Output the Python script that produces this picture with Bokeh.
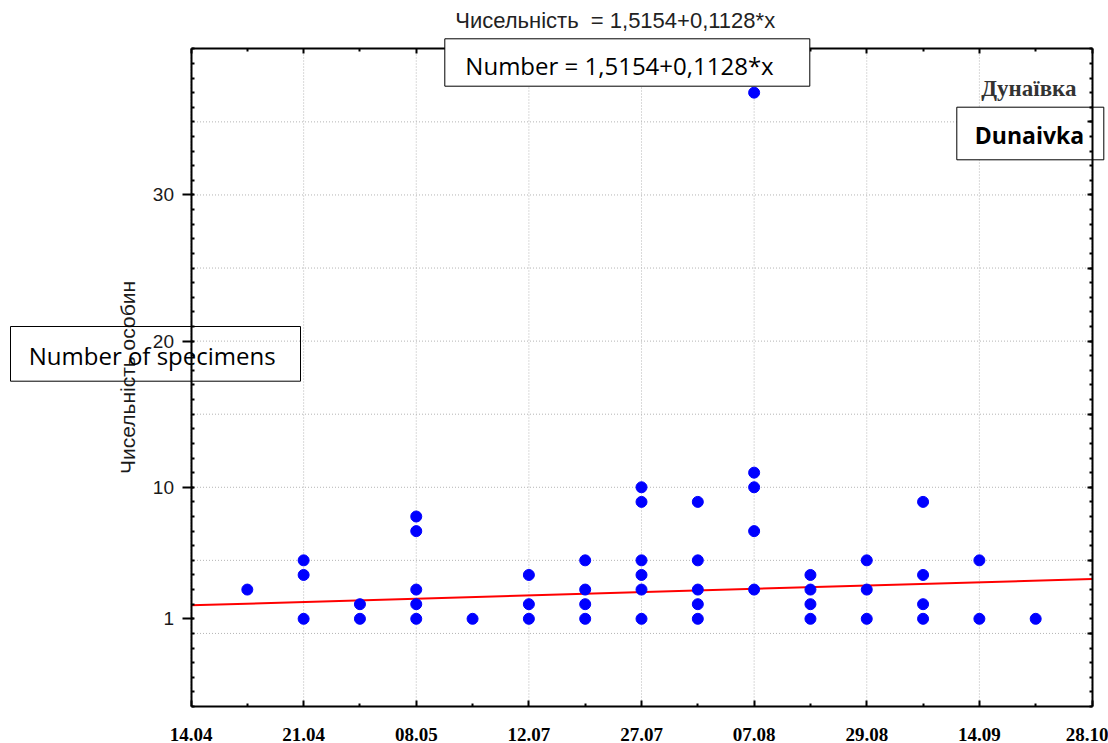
from bokeh.plotting import figure
from bokeh.models import Range1d, FixedTicker, LinearAxis, Label, BoxAnnotation, ColumnDataSource
from bokeh.embed import file_html
from bokeh.resources import INLINE

# Sampling dates shown on the horizontal axis and their slot positions
date_labels = ["14.04", "21.04", "08.05", "12.07", "27.07", "07.08", "29.08", "14.09", "28.10"]
date_slots = [0, 2, 4, 6, 8, 10, 12, 14, 16]
between_slots = [1, 3, 5, 7, 9, 11, 13, 15]

# Counts of specimens per trap, grouped by sampling slot
sample_slot = [1,
               2, 2, 2,
               3, 3,
               4, 4, 4, 4, 4,
               5,
               6, 6, 6,
               7, 7, 7, 7,
               8, 8, 8, 8, 8, 8,
               9, 9, 9, 9, 9,
               10, 10, 10, 10, 10,
               11, 11, 11, 11,
               12, 12, 12,
               13, 13, 13, 13,
               14, 14,
               15]
specimens = [3,
             5, 4, 1,
             2, 1,
             8, 7, 3, 2, 1,
             1,
             4, 2, 1,
             5, 3, 2, 1,
             10, 9, 5, 4, 3, 1,
             9, 5, 3, 2, 1,
             37, 11, 10, 7, 3,
             4, 3, 2, 1,
             5, 3, 1,
             9, 4, 2, 1,
             5, 1,
             1]

# Linear fit: Number = 1.5154 + 0.1128 * x
intercept = 1.5154
slope = 0.1128
fit_x_offset = 3.6  # fit's x value at the first slot

y_label_ticks = [1, 10, 20, 30]
y_grid_ticks = [0, 5, 10, 15, 20, 25, 30, 35]

# axis box in data units
X0, X1 = 0, 16
Y0, Y1 = -5, 40

# canvas geometry: the axis box sits inside a frame that fills the whole canvas,
# so that captions may extend past the axes
W, H = 1108, 743
BOX_L, BOX_R, BOX_T, BOX_B = 190.5, 1091.5, 48.3, 706.0
sx = (BOX_R - BOX_L) / (X1 - X0)
sy = (BOX_B - BOX_T) / (Y1 - Y0)
x_lo = X0 - BOX_L / sx
x_hi = X1 + (W - BOX_R) / sx
y_hi = Y1 + BOX_T / sy
y_lo = Y0 - (H - BOX_B) / sy

p = figure(width=W, height=H,
           x_range=Range1d(x_lo, x_hi), y_range=Range1d(y_lo, y_hi),
           output_backend="svg", toolbar_location=None,
           min_border=0, min_border_left=0, min_border_right=0,
           min_border_top=0, min_border_bottom=0)
p.background_fill_color = "white"
p.border_fill_color = "white"
p.outline_line_color = None
p.xgrid.visible = False
p.ygrid.visible = False

# dotted grid confined to the axis box
GRID = dict(line_color="#b4b4b4", line_dash="1 2", line_width=1, level="underlay")
p.segment(x0=date_slots, x1=date_slots, y0=[Y0] * len(date_slots), y1=[Y1] * len(date_slots), **GRID)
p.segment(x0=[X0] * len(y_grid_ticks), x1=[X1] * len(y_grid_ticks), y0=y_grid_ticks, y1=y_grid_ticks, **GRID)


def style_axis(ax):
    ax.axis_line_width = 2
    ax.axis_line_color = "black"
    ax.major_tick_line_width = 2
    ax.minor_tick_line_width = 2
    ax.major_tick_line_color = "black"
    ax.minor_tick_line_color = "black"


# bottom axis
xa = p.xaxis[0]
style_axis(xa)
xa.fixed_location = Y0
xa.bounds = (X0, X1)
xa.ticker = FixedTicker(ticks=date_slots, minor_ticks=between_slots)
xa.major_label_overrides = {s: lab for s, lab in zip(date_slots, date_labels)}
xa.major_label_text_font = "Liberation Serif"
xa.major_label_text_font_style = "bold"
xa.major_label_text_font_size = "19px"
xa.major_label_text_color = "black"
xa.major_label_standoff = 21
xa.major_tick_in = 6
xa.major_tick_out = 0
xa.minor_tick_in = 3
xa.minor_tick_out = 0

# left axis
ya = p.yaxis[0]
style_axis(ya)
ya.fixed_location = X0
ya.bounds = (Y0, Y1)
ya.ticker = FixedTicker(ticks=y_label_ticks, minor_ticks=list(range(Y0, Y1 + 1)))
ya.major_label_text_font = "Liberation Sans"
ya.major_label_text_font_size = "19px"
ya.major_label_text_color = "#1a1a1a"
ya.major_label_standoff = 8
ya.major_tick_in = 2
ya.major_tick_out = 9
ya.minor_tick_in = 3
ya.minor_tick_out = 0
ya.axis_label = "Чисельність особин"
ya.axis_label_text_font = "Liberation Sans"
ya.axis_label_text_font_style = "normal"
ya.axis_label_text_font_size = "21px"
ya.axis_label_text_color = "#1a1a1a"
ya.axis_label_standoff = 11

# mirrored ticks on top and right, no labels
top = LinearAxis(ticker=FixedTicker(ticks=date_slots, minor_ticks=between_slots),
                 fixed_location=Y1, bounds=(X0, X1))
right = LinearAxis(ticker=FixedTicker(ticks=y_grid_ticks, minor_ticks=list(range(Y0, Y1 + 1))),
                   fixed_location=X1, bounds=(Y0, Y1))
for ax in (top, right):
    style_axis(ax)
    ax.major_label_text_color = None
    ax.major_tick_in = 5
    ax.major_tick_out = 0
    ax.minor_tick_in = 3
    ax.minor_tick_out = 0
p.add_layout(top, "above")
p.add_layout(right, "right")

# regression line
fit_x = [X0, X1]
fit_y = [intercept + slope * (x + fit_x_offset) for x in fit_x]
p.line(fit_x, fit_y, line_color="#ff0000", line_width=2)

# observations
src = ColumnDataSource(data=dict(x=sample_slot, y=specimens))
p.scatter("x", "y", source=src, size=11, fill_color="#0000ff", line_color="#0000ff")


def px_x(v):
    return X0 + (v - BOX_L) / sx


def px_y(v):
    return Y1 - (v - BOX_T) / sy


LIFT = 8  # baseline correction for text placed on pixel rows

# equation heading
p.add_layout(Label(x=px_x(614.7), y=px_y(28.3 - LIFT), text="Чисельність\u00a0\u00a0= 1,5154+0,1128*x",
                   text_align="center", text_baseline="alphabetic",
                   text_font="Liberation Sans", text_font_size="22px", text_color="#222222"))

# English caption of the equation
p.add_layout(BoxAnnotation(left=px_x(444.3), right=px_x(809.3),
                           top=px_y(38.3), bottom=px_y(85.7),
                           fill_color="white", fill_alpha=1.0,
                           line_color="black", line_alpha=1.0, line_width=1))
p.add_layout(Label(x=px_x(619), y=px_y(73 - LIFT), text="Number = 1,5154+0,1128*x",
                   text_align="center", text_baseline="alphabetic",
                   text_font="Open Sans", text_font_size="24px", text_color="black"))

# site name
p.add_layout(Label(x=px_x(1076), y=px_y(95.7 - LIFT), text="Дунаївка",
                   text_align="right", text_baseline="alphabetic",
                   text_font="Liberation Serif", text_font_style="bold",
                   text_font_size="23px", text_color="#333333"))
p.add_layout(BoxAnnotation(left=px_x(956.3), right=px_x(1103.3),
                           top=px_y(106.7), bottom=px_y(159.3),
                           fill_color="white", fill_alpha=1.0,
                           line_color="black", line_alpha=1.0, line_width=1, level="underlay"))
p.add_layout(Label(x=px_x(1029), y=px_y(142 - LIFT), text="Dunaivka",
                   text_align="center", text_baseline="alphabetic",
                   text_font="Open Sans", text_font_style="bold",
                   text_font_size="23px", text_color="black"))

# English axis caption
p.add_layout(BoxAnnotation(left=px_x(10), right=px_x(300),
                           top=px_y(326), bottom=px_y(380.7),
                           fill_alpha=0.0, line_color="black", line_alpha=1.0, line_width=1))
p.add_layout(Label(x=px_x(151.7), y=px_y(363 - LIFT), text="Number of specimens",
                   text_align="center", text_baseline="alphabetic",
                   text_font="Open Sans", text_font_size="24px", text_color="black"))

open("out.html", "w").write(file_html(p, INLINE))
